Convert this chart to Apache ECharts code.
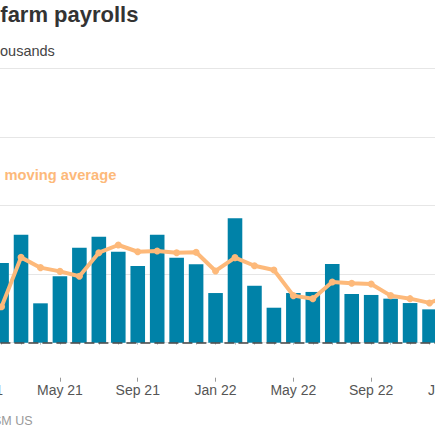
<!DOCTYPE html>
<html>
<head>
    <meta charset="utf-8">
    <script src="https://cdn.jsdelivr.net/npm/echarts@6/dist/echarts.min.js"></script>
    <style>
        html, body { margin: 0; padding: 0; background: #fff; overflow: hidden; width: 435px; height: 435px; }
        /* the chart is wider than the window: its left and right ends fall outside the frame */
        #main { position: absolute; left: -60px; top: 0; }
    </style>
</head>
<body>
    <div id="main" style="width: 525px;height:435px;"></div>
    <script type="text/javascript">
        // months shown on the axis
        var months = ['Jan 21', 'Feb 21', 'Mar 21', 'Apr 21', 'May 21', 'Jun 21', 'Jul 21', 'Aug 21',
            'Sep 21', 'Oct 21', 'Nov 21', 'Dec 21', 'Jan 22', 'Feb 22', 'Mar 22', 'Apr 22', 'May 22',
            'Jun 22', 'Jul 22', 'Aug 22', 'Sep 22', 'Oct 22', 'Nov 22', 'Dec 22', 'Jan 23'];
        // monthly change, thousands
        var payrolls = [498, 581, 787, 287, 484, 692, 773, 663, 559, 787, 620, 571,
            362, 907, 415, 255, 362, 370, 574, 355, 348, 321, 289, 243, 500];
        // 3-month moving average, thousands
        var movingAvg = [156, 262, 622, 547, 520, 484, 656, 712, 663, 668, 656, 659,
            523, 620, 561, 530, 343, 321, 442, 433, 428, 343, 321, 290, 344];
        var yTicks = [0, 500, 1000, 1500, 2000];

        var font = 'Liberation Sans, Arial, sans-serif';
        var shift = 60; // how far the chart's left edge sits outside the window
        var myChart = echarts.init(document.getElementById('main'), null, { renderer: 'svg' });

        var option = {
            animation: false,
            textStyle: { fontFamily: font },
            grid: {
                left: 32.4,
                right: 6.3,
                top: 68.3,
                bottom: 92.3,
                containLabel: false,
                outerBoundsMode: 'none'
            },
            xAxis: [
                {
                    type: 'category',
                    data: months,
                    position: 'bottom',
                    offset: 35,
                    axisLine: { show: false },
                    axisTick: { show: true, alignWithLabel: true, interval: 0, length: 2, lineStyle: { color: '#bbbbbb' } },
                    axisLabel: { show: false }
                },
                {
                    type: 'category',
                    data: months,
                    position: 'bottom',
                    offset: 35,
                    axisLine: { show: false },
                    axisTick: { show: true, alignWithLabel: true, interval: 3, length: 4, lineStyle: { color: '#999999' } },
                    axisLabel: { interval: 3, margin: 5, fontSize: 14, color: '#555555', fontFamily: font }
                }
            ],
            yAxis: {
                type: 'value',
                min: yTicks[0],
                max: yTicks[yTicks.length - 1],
                interval: 500,
                axisLine: { show: false },
                axisTick: { show: false },
                // the value labels sit left of the frame, outside the picture
                axisLabel: { show: false },
                splitLine: { lineStyle: { color: '#e6e6e6', width: 1 } }
            },
            graphic: [
                {
                    type: 'text', x: shift + 0.3, y: 14,
                    style: { text: 'farm payrolls', fill: '#333333', font: 'bold 22px ' + font,
                        align: 'left', textAlign: 'left', verticalAlign: 'middle', textVerticalAlign: 'middle' }
                },
                {
                    type: 'text', x: shift, y: 51,
                    style: { text: 'ousands', fill: '#444444', font: '14.5px ' + font,
                        align: 'left', textAlign: 'left', verticalAlign: 'middle', textVerticalAlign: 'middle' }
                },
                {
                    type: 'text', x: shift + 4.5, y: 174.5,
                    style: { text: 'moving average', fill: '#fdb97a', font: 'bold 14.7px ' + font,
                        align: 'left', textAlign: 'left', verticalAlign: 'middle', textVerticalAlign: 'middle' }
                },
                {
                    type: 'text', x: shift + 32.5, y: 420.5,
                    style: { text: 'SM US', fill: '#999999', font: '12.5px ' + font,
                        align: 'right', textAlign: 'right', verticalAlign: 'middle', textVerticalAlign: 'middle' }
                }
            ],
            series: [
                {
                    name: 'Payrolls',
                    type: 'bar',
                    data: payrolls,
                    barCategoryGap: '25%',
                    itemStyle: { color: '#0082a8' },
                    markLine: {
                        silent: true,
                        symbol: 'none',
                        label: { show: false },
                        lineStyle: { color: '#444444', type: [10, 4], width: 1.5 },
                        data: [{ yAxis: 0 }]
                    }
                },
                {
                    name: '3-month moving average',
                    type: 'line',
                    data: movingAvg,
                    symbol: 'circle',
                    symbolSize: 7,
                    z: 5,
                    lineStyle: { color: '#fdb97a', width: 4 },
                    itemStyle: { color: '#fdb97a' }
                }
            ]
        };

        myChart.setOption(option);
    </script>
</body>
</html>
